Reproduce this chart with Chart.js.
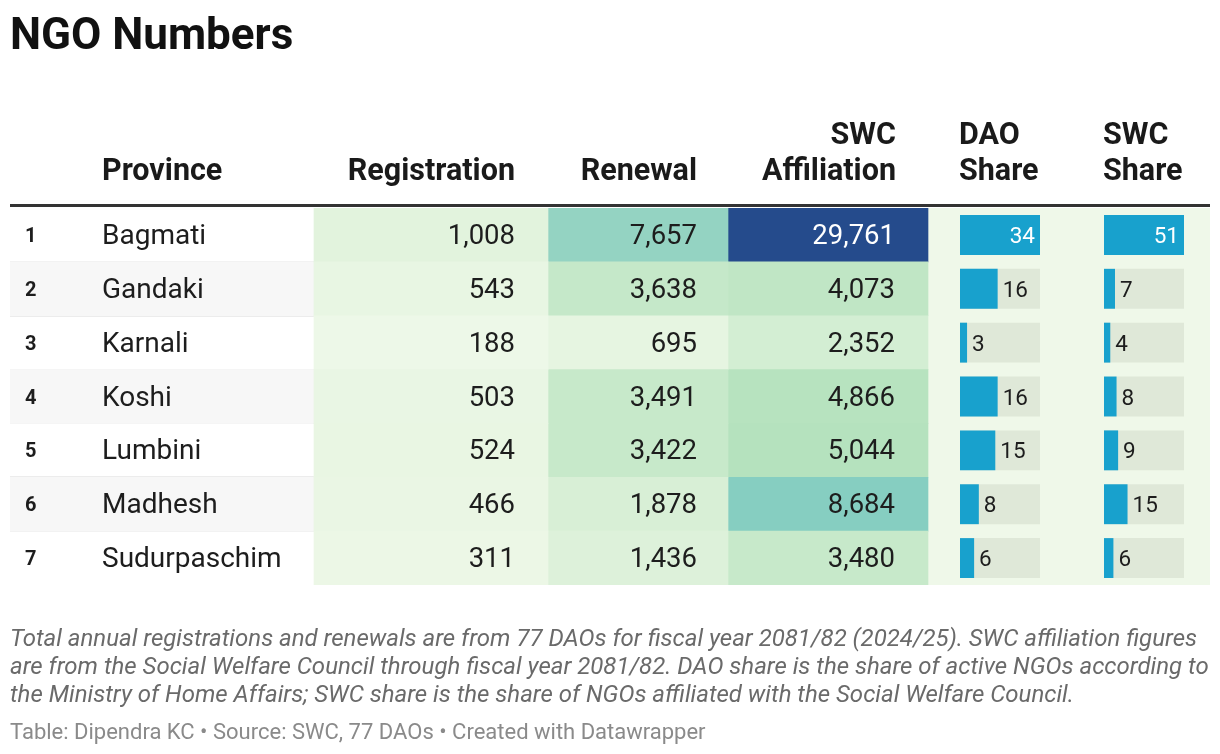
<!DOCTYPE html>
<html><head><meta charset="utf-8">
<script src="https://cdn.jsdelivr.net/npm/chart.js@4.4.1/dist/chart.umd.min.js"></script>
<style>
html,body{margin:0;padding:0;background:#fff;}
#wrap{position:relative;width:1220px;height:754px;overflow:hidden;font-family:Roboto,sans-serif;}
#title{position:absolute;left:10px;top:12px;font:700 44px/1 Roboto;color:#111;white-space:nowrap;}
#chart{position:absolute;left:0;top:0;}
#notes{position:absolute;left:10px;top:624px;font:italic 400 24px/28px Roboto;color:#6a6a6a;white-space:nowrap;}
#footer{position:absolute;left:10px;top:719px;font:400 22px/26px Roboto;color:#8a8a8a;white-space:nowrap;}
</style></head>
<body>
<div id="wrap">
<canvas id="chart" width="1220" height="754"></canvas>
<div id="title">NGO Numbers</div>
<div id="notes">Total annual registrations and renewals are from 77 DAOs for fiscal year 2081/82 (2024/25). SWC affiliation figures<br>are from the Social Welfare Council through fiscal year 2081/82. DAO share is the share of active NGOs according to<br>the Ministry of Home Affairs; SWC share is the share of NGOs affiliated with the Social Welfare Council.</div>
<div id="footer">Table: Dipendra KC • Source: SWC, 77 DAOs • Created with Datawrapper</div>
</div>
<script>
// ---- data ----
const ranks = [1, 2, 3, 4, 5, 6, 7];
const provinces = ['Bagmati', 'Gandaki', 'Karnali', 'Koshi', 'Lumbini', 'Madhesh', 'Sudurpaschim'];
const registration = [1008, 543, 188, 503, 524, 466, 311];
const renewal = [7657, 3638, 695, 3491, 3422, 1878, 1436];
const swcAffiliation = [29761, 4073, 2352, 4866, 5044, 8684, 3480];
const daoShare = [34, 16, 3, 16, 15, 8, 6];
const swcShare = [51, 7, 4, 8, 9, 15, 6];
const columnHeaders = [['Province'], ['Registration'], ['Renewal'], ['SWC', 'Affiliation'], ['DAO', 'Share'], ['SWC', 'Share']];

// ---- layout (pixel units on the x scale) ----
const L = {
  left: 10, right: 1210, top: 208, bottom: 585,
  rankX: 25, provX: 102,
  reg: [314, 548], ren: [548, 728], swc: [728, 928], shareBg: [928, 1210],
  dao: [960, 1040], swcS: [1104, 1184],
  regText: 515, renText: 697, swcText: 895
};
const headerAnchors = [
  {x: 102, align: 'left'}, {x: 515, align: 'right'}, {x: 697, align: 'right'},
  {x: 896, align: 'right'}, {x: 959, align: 'left'}, {x: 1103, align: 'left'}
];

// ---- heatmap colour scale ----
const heatStops = [[0,'#f0f9ea'],[0.034,'#e2f3dd'],[0.125,'#c4e8c8'],[0.17,'#b5e2be'],[0.26,'#93d3c2'],[0.29,'#87cec1'],[0.5,'#4aa3c4'],[0.75,'#2f73ab'],[1,'#254b8c']];
const heatMax = Math.max(...registration, ...renewal, ...swcAffiliation);
function hex2rgb(h){return [1,3,5].map(i=>parseInt(h.slice(i,i+2),16));}
function heat(v){
  const t = v / heatMax;
  for (let i = 1; i < heatStops.length; i++) {
    if (t <= heatStops[i][0]) {
      const [t0,c0] = heatStops[i-1], [t1,c1] = heatStops[i];
      const f = (t - t0) / (t1 - t0), a = hex2rgb(c0), b = hex2rgb(c1);
      return 'rgb(' + a.map((x,k)=>Math.round(x + (b[k]-x)*f)).join(',') + ')';
    }
  }
  return heatStops[heatStops.length-1][1];
}
const fmt = v => v.toLocaleString('en-US');

const full = {type:'bar', barPercentage:1, categoryPercentage:1, grouped:false, borderWidth:0, borderSkipped:false};
const barPct = 40/54;
const cellSet = (vals, col) => Object.assign({}, full, {
  data: vals.map(()=>[col[0], col[1]]), backgroundColor: vals.map(heat), order: 8
});
const shareBar = (vals, track) => {
  const m = Math.max(...vals);
  return vals.map(v => [track[0], track[0] + v / m * (track[1] - track[0])]);
};
const daoBars = shareBar(daoShare, L.dao);
const swcBars = shareBar(swcShare, L.swcS);

const datasets = [
  Object.assign({}, full, {data: provinces.map((p,i)=> i%2===1 ? [L.left, L.reg[0]] : null), backgroundColor:'#f7f7f7', order: 9}),
  cellSet(registration, L.reg),
  cellSet(renewal, L.ren),
  cellSet(swcAffiliation, L.swc),
  Object.assign({}, full, {data: provinces.map(()=>[L.shareBg[0], L.shareBg[1]]), backgroundColor:'#eff8e9', order: 8}),
  Object.assign({}, full, {data: provinces.map(()=>[L.dao[0], L.dao[1]]), backgroundColor:'#dfe8d8', barPercentage: barPct, order: 5}),
  Object.assign({}, full, {data: daoBars, backgroundColor:'#18a1cd', barPercentage: barPct, order: 4}),
  Object.assign({}, full, {data: provinces.map(()=>[L.swcS[0], L.swcS[1]]), backgroundColor:'#dfe8d8', barPercentage: barPct, order: 5}),
  Object.assign({}, full, {data: swcBars, backgroundColor:'#18a1cd', barPercentage: barPct, order: 4})
];

const tablePlugin = {
  id: 'tableText',
  afterDraw(chart) {
    const {ctx, scales: {x, y}} = chart;
    const X = v => x.getPixelForValue(v);
    ctx.save();
    // header rule
    ctx.fillStyle = '#333333';
    ctx.fillRect(X(L.left), y.top - 4, X(L.right) - X(L.left), 3);
    // headers
    ctx.fillStyle = '#1a1a1a';
    ctx.font = '700 30.5px Roboto';
    ctx.textBaseline = 'alphabetic';
    columnHeaders.forEach((lines, c) => {
      const a = headerAnchors[c];
      ctx.textAlign = a.align;
      lines.forEach((t, k) => {
        const base = y.top - 28 - (lines.length - 1 - k) * 36;
        ctx.fillText(t, X(a.x), base);
      });
    });
    // rows
    provinces.forEach((p, i) => {
      const cy = y.getPixelForValue(i);
      ctx.fillStyle = '#1d1d1d';
      ctx.textAlign = 'left';
      ctx.font = '700 20px Roboto';
      ctx.fillText(String(ranks[i]), X(L.rankX), cy + 7);
      ctx.font = '400 28px Roboto';
      ctx.fillText(p, X(L.provX), cy + 9);
      ctx.textAlign = 'right';
      ctx.font = '400 27.5px Roboto';
      [[registration, L.regText], [renewal, L.renText], [swcAffiliation, L.swcText]].forEach(([vals, tx]) => {
        ctx.fillStyle = vals[i] / heatMax > 0.5 ? '#ffffff' : '#1d1d1d';
        ctx.fillText(fmt(vals[i]), X(tx), cy + 9);
      });
      ctx.font = '400 22.5px Roboto';
      [[daoShare, daoBars, L.dao], [swcShare, swcBars, L.swcS]].forEach(([vals, bars, track]) => {
        const label = String(vals[i]);
        const end = X(bars[i][1]);
        const w = ctx.measureText(label).width;
        if (X(track[1]) - end < w + 12) {
          ctx.fillStyle = '#ffffff'; ctx.textAlign = 'right';
          ctx.fillText(label, end - 5, cy + 8);
        } else {
          ctx.fillStyle = '#1d1d1d'; ctx.textAlign = 'left';
          ctx.fillText(label, end + 5, cy + 8);
        }
      });
    });
    ctx.restore();
  }
};

new Chart(document.getElementById('chart'), {
  type: 'bar',
  data: {labels: provinces, datasets},
  options: {
    indexAxis: 'y',
    responsive: false,
    animation: false,
    events: [],
    layout: {padding: {top: L.top, bottom: 754 - L.bottom, left: L.left, right: 1220 - L.right}},
    plugins: {legend: {display: false}, tooltip: {enabled: false}, title: {display: false}},
    scales: {
      x: {type: 'linear', min: L.left, max: L.right, display: false},
      y: {
        type: 'category', offset: true, display: true, z: 1,
        grid: {offset: true, drawTicks: false, lineWidth: 2,
          color: c => (c.index > 0 && c.index < provinces.length) ? 'rgba(0,0,0,0.075)' : 'rgba(0,0,0,0)'},
        border: {display: false},
        ticks: {display: false}
      }
    }
  },
  plugins: [tablePlugin]
});
</script>
</body></html>
